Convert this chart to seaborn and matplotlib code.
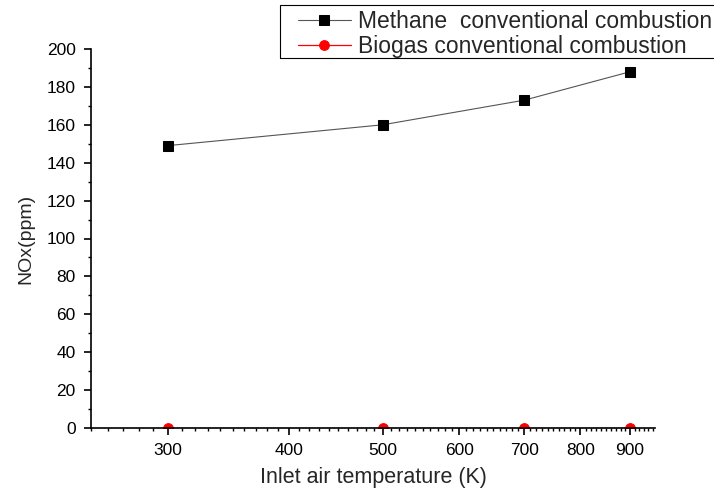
import matplotlib
matplotlib.use("Agg")
import matplotlib.pyplot as plt
import matplotlib.ticker as mticker
from matplotlib.patches import Rectangle
import seaborn as sns
import pandas as pd

temperature = [300, 500, 700, 900]
methane_nox = [149, 160, 173, 188]
biogas_nox = [0, 0, 0, 0]
major_xticks = [300, 400, 500, 600, 700, 800, 900]
methane_label = "Methane  conventional combustion"
biogas_label = "Biogas conventional combustion"

sns.set_theme(style="ticks")
plt.rcParams['font.family'] = ['Liberation Sans', 'DejaVu Sans']

fig = plt.figure(figsize=(7.14, 4.88), dpi=100)
ax = fig.add_axes([91/714, 1-428/488, (655-91)/714, (428-49)/488])

df_m = pd.DataFrame({"T": temperature, "NOx": methane_nox})
df_b = pd.DataFrame({"T": temperature, "NOx": biogas_nox})

sns.lineplot(data=df_m, x="T", y="NOx", ax=ax, color="#555555", linewidth=0.8,
             marker="s", markersize=7, markerfacecolor="black", markeredgecolor="black",
             label=methane_label)
sns.lineplot(data=df_b, x="T", y="NOx", ax=ax, color="red", linewidth=0.9,
             marker="o", markersize=7, markerfacecolor="red", markeredgecolor="red",
             label=biogas_label)

ax.set_xscale("log")
ax.set_xlim(250, 955)
ax.set_ylim(0, 200)
ax.xaxis.set_major_locator(mticker.FixedLocator(major_xticks))
ax.xaxis.set_major_formatter(mticker.FixedFormatter([str(t) for t in major_xticks]))
ax.xaxis.set_minor_locator(mticker.FixedLocator([v for v in range(250, 951, 10) if v not in major_xticks]))
ax.xaxis.set_minor_formatter(mticker.NullFormatter())
ax.yaxis.set_major_locator(mticker.MultipleLocator(20))
ax.yaxis.set_minor_locator(mticker.MultipleLocator(10))

ax.tick_params(axis="both", which="major", direction="out", length=5, width=1.2,
               labelsize=12.5, color="black", labelcolor="black", pad=6)
ax.tick_params(axis="both", which="minor", direction="out", length=2.5, width=1.0, color="black")

for s in ["top", "right"]:
    ax.spines[s].set_visible(False)
for s in ["left", "bottom"]:
    ax.spines[s].set_color("black")
    ax.spines[s].set_linewidth(1.2)

ax.set_xlabel("Inlet air temperature (K)", fontsize=15.5, labelpad=6)
ax.set_ylabel("NOx(ppm)", fontsize=14, labelpad=9)

# legend frame (extends past the right edge like the reference)
fig.patches.append(Rectangle((280/714, 1-58/488), 500/714, 53/488,
                             transform=fig.transFigure, fill=False,
                             edgecolor="black", linewidth=0.8, zorder=5))
leg = ax.legend(loc="upper left", bbox_to_anchor=(298/714, 1-10/488),
                bbox_transform=fig.transFigure, fontsize=16.5, frameon=False,
                handlelength=2.3, handletextpad=0.3, labelspacing=0.1,
                borderpad=0, borderaxespad=0)

fig.savefig("out.png", dpi=100)
